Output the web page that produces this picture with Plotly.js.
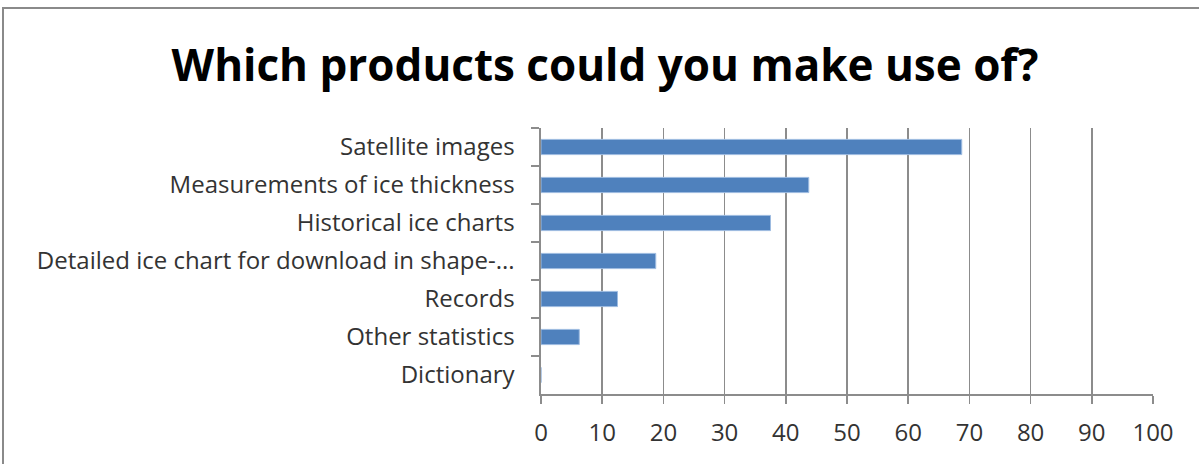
<!DOCTYPE html>
<html>
<head>
<meta charset="utf-8">
<script src="https://cdn.plot.ly/plotly-3.0.1.min.js"></script>
<style>
  html, body { margin: 0; padding: 0; background: #fff; overflow: hidden; }
  #chart { width: 1199px; height: 464px; }
  #frame { position: absolute; left: 2px; top: 7px; width: 1300px; height: 600px;
           border: 2px solid #8a8a8a; pointer-events: none; box-sizing: border-box; }
</style>
</head>
<body>
<div id="chart"></div>
<div id="frame"></div>
<script>
const categories = [
  "Satellite images",
  "Measurements of ice thickness",
  "Historical ice charts",
  "Detailed ice chart for download in shape-...",
  "Records",
  "Other statistics",
  "Dictionary"
];
const values = [68.75, 43.75, 37.5, 18.75, 12.5, 6.25, 0];
const xTicks = [0, 10, 20, 30, 40, 50, 60, 70, 80, 90, 100];

const trace = {
  type: "bar",
  orientation: "h",
  y: categories,
  x: values,
  marker: { color: "#4F81BD", line: { color: "#9dbbe0", width: 1 } },
  hoverinfo: "x+y"
};

const layout = {
  width: 1199,
  height: 464,
  margin: { l: 541, r: 46, t: 128, b: 70 },
  paper_bgcolor: "#ffffff",
  plot_bgcolor: "#ffffff",
  showlegend: false,
  bargap: 0.6,
  title: {
    text: "<b>Which products could you make use of?</b>",
    font: { family: "Open Sans, sans-serif", size: 44, color: "#000000" },
    x: 0.5046, xanchor: "center", xref: "container",
    y: 0.858, yanchor: "middle", yref: "container"
  },
  xaxis: {
    range: [0, 100],
    tickvals: xTicks,
    ticktext: xTicks.map(String),
    showgrid: true,
    gridcolor: "#8c8c8c",
    gridwidth: 1.6,
    zeroline: false,
    showline: true,
    linecolor: "#8c8c8c",
    linewidth: 1.6,
    ticks: "outside",
    ticklen: 8,
    tickcolor: "#8c8c8c",
    tickwidth: 1.5,
    ticklabelstandoff: 9,
    tickfont: { family: "Open Sans, sans-serif", size: 24, color: "#333333" },
    fixedrange: true
  },
  yaxis: {
    type: "category",
    categoryorder: "array",
    categoryarray: categories,
    autorange: "reversed",
    showgrid: false,
    zeroline: false,
    showline: true,
    linecolor: "#8c8c8c",
    linewidth: 1.6,
    ticks: "outside",
    tickson: "boundaries",
    ticklen: 8,
    tickcolor: "#8c8c8c",
    tickwidth: 1.5,
    ticklabelstandoff: 20,
    tickfont: { family: "Open Sans, sans-serif", size: 24, color: "#333333" },
    fixedrange: true
  }
};

Plotly.newPlot("chart", [trace], layout, { displayModeBar: false, staticPlot: true });
</script>
</body>
</html>
